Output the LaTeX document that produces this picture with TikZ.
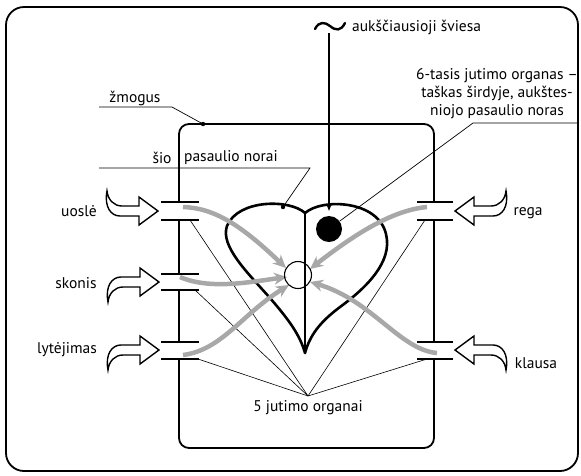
\documentclass[tikz,border=0pt]{standalone}
\usepackage{fontspec}
\setmainfont{PT Sans}
\usetikzlibrary{arrows.meta}
\definecolor{arrowgray}{HTML}{A8A8A8}
\tikzset{
  lbl/.style={font=\fontsize{15.5}{18}\selectfont, inner sep=0pt},
  frameline/.style={line width=1.8pt},
  thinline/.style={line width=0.6pt},
  leader/.style={line width=0.7pt},
  grayarrow/.style={line width=4.5pt, draw=arrowgray, -{Stealth[length=13pt,width=12pt,fill=arrowgray]}},
  plate/.style={line width=1.8pt},
  sense/.style={line width=1.4pt, fill=white},
  sensearrow/.pic={
    \draw[sense] (0,0) -- (-19,-14) -- (-19,-5) -- (-38,-5)
      .. controls (-47,-5) and (-54,4) .. (-51,20)
      .. controls (-50,11) and (-44,5) .. (-36,5) -- (-19,5) -- (-19,14) -- cycle;
  }
}
\begin{document}
\begin{tikzpicture}[x=1pt,y=-1pt]
\useasboundingbox (0,0) rectangle (581,475);
% outer frame
\draw[frameline, rounded corners=18pt] (6,7) rectangle (578,471);
% inner body (with gaps for the sense organs)
\draw[frameline, rounded corners=10pt] (179,202) -- (179,124) -- (434,124) -- (434,202);
\draw[frameline] (179,220) -- (179,274);
\draw[frameline] (179,290) -- (179,342);
\draw[frameline] (434,220) -- (434,342);
\draw[frameline, rounded corners=10pt] (179,359) -- (179,448) -- (434,448) -- (434,359);
% plates
\foreach \y in {202,220,274,290,342,359} \draw[plate] (161,\y) -- (199,\y);
\foreach \y in {202,220,342,359} \draw[plate] (417,\y) -- (453,\y);
% thin lines to the 5 senses label
\coordinate (conv) at (308,396);
\coordinate (p1) at (190,220);
\coordinate (p2) at (195,290);
\coordinate (p3) at (198,359);
\coordinate (p4) at (425,220);
\coordinate (p5) at (427,359);
\foreach \p in {p1,p2,p3,p4,p5} \draw[thinline] (\p) -- (conv);
\node[lbl, anchor=north] (five) at (308,400) {5 jutimo organai};
% heart
\coordinate (htop) at (305,213);
\coordinate (hbot) at (305,353);
\draw[line width=2.6pt, line join=round]
  (htop) .. controls (290,199) and (238,199) .. (227,226)
  .. controls (220,246) and (247,272) .. (270,298)
  .. controls (289,320) and (300,335) .. (hbot)
  .. controls (310,335) and (320,322) .. (340,307)
  .. controls (366,288) and (393,262) .. (386,234)
  .. controls (378,200) and (322,198) .. (htop) -- cycle;
\draw[line width=2.4pt] (htop) -- (hbot);
% black dot (6th sense)
\node[circle, fill=black, minimum size=26pt, inner sep=0pt] (dot) at (329,229) {};
% gray arrows
\coordinate (ci) at (298,275);
\draw[grayarrow] (183,207) .. controls (215,208) and (242,226) .. (286,268);
\draw[grayarrow] (180,277) .. controls (210,290) and (250,282) .. (287,277);
\draw[grayarrow] (183,355) .. controls (222,350) and (242,314) .. (289,285);
\draw[grayarrow] (427,207) .. controls (395,210) and (360,230) .. (310,269);
\draw[grayarrow] (437,353) .. controls (400,350) and (372,300) .. (310,282);
% small circle
\node[circle, draw, line width=1.1pt, minimum size=27pt, inner sep=0pt] (circ) at (ci) {};
% sense arrows
\pic[yscale=-1] at (158,211) {sensearrow};
\pic at (159,282) {sensearrow};
\pic at (159,350) {sensearrow};
\pic[xscale=-1, yscale=-1] at (455,211) {sensearrow};
\pic[xscale=-1] at (455,350) {sensearrow};
% sense labels
\node[lbl] (uosle) at (79,211) {uoslė};
\node[lbl] (skonis) at (76,283) {skonis};
\node[lbl] (lyt) at (67,350) {lytėjimas};
\node[lbl] (rega) at (528,213) {rega};
\node[lbl] (klausa) at (536,363) {klausa};
% zmogus label
\node[lbl] (zm) at (135,98) {žmogus};
\coordinate (zmA) at (99,107);
\coordinate (zmB) at (172,107);
\coordinate (zmdot) at (203,124);
\draw[leader] (zmA) -- (zmB) -- (zmdot);
\fill (zmdot) circle (2.2pt);
% sio pasaulio norai
\node[lbl] (sio) at (162,158) {šio};
\node[lbl] (pn) at (231,158) {pasaulio norai};
\coordinate (spA) at (99,168);
\coordinate (spB) at (310,168);
\coordinate (spdot) at (283,207);
\draw[leader] (spA) -- (spB) -- (spdot);
\fill (spdot) circle (2.2pt);
% highest light
\draw[line width=2.4pt, line cap=round] (315,29) .. controls (319,21) and (325,22) .. (330,26)
  .. controls (336,31) and (341,31) .. (345,23);
\node[lbl, anchor=west] (light) at (352,27) {aukščiausioji šviesa};
\coordinate (lt) at (329,33);
\draw[line width=1.1pt, -{Triangle[length=7pt,width=5pt]}] (lt) -- (329,211);
% sixth sense label
\node[lbl, align=center] (six) at (497,94) {6-tasis jutimo organas –\\taškas širdyje, aukštes-\\niojo pasaulio noras};
\coordinate (sxA) at (577,123);
\coordinate (sxB) at (473,123);
\draw[leader] (sxA) -- (sxB) -- (dot);
\end{tikzpicture}
\end{document}
